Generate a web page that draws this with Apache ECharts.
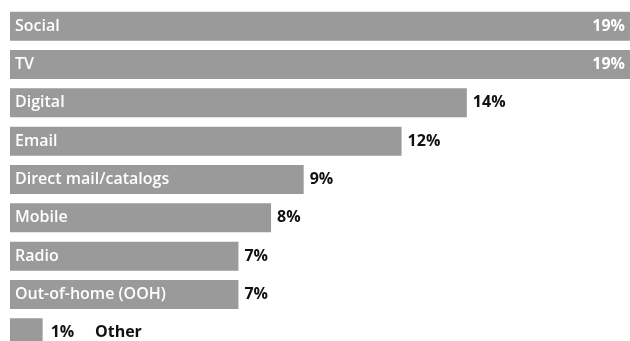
<!DOCTYPE html>
<html>
<head>
<meta charset="utf-8">
<script src="https://cdn.jsdelivr.net/npm/echarts@6/dist/echarts.min.js"></script>
<style>
  html, body { margin: 0; padding: 0; background: #fff; }
  #chart { width: 630px; height: 341px; }
</style>
</head>
<body>
<div id="chart"></div>
<script>
const channels = ["Social", "TV", "Digital", "Email", "Direct mail/catalogs", "Mobile", "Radio", "Out-of-home (OOH)", "Other"];
const shares = [19, 19, 14, 12, 9, 8, 7, 7, 1];

const FONT = "Open Sans";
const FONT_SIZE = 16;
const barGrey = "#9a9a9a";

const chart = echarts.init(document.getElementById("chart"));

// bars with the channel name written inside, left aligned
const barData = shares.map((v, i) => ({
  value: v,
  label: {
    show: channels[i] !== "Other",
    formatter: channels[i],
  },
}));

// transparent twin series carrying the percentage labels
const valueData = shares.map((v, i) => {
  const full = v === Math.max(...shares);
  if (channels[i] === "Other") {
    return {
      value: v,
      label: {
        position: "right",
        distance: 8,
        formatter: `{v|${v}%}     {v|${channels[i]}}`,
        rich: { v: { fontFamily: FONT, fontWeight: "bold", fontSize: FONT_SIZE, color: "#111" } },
      },
    };
  }
  return {
    value: v,
    label: full
      ? { position: "insideRight", distance: 5, color: "#fff" }
      : { position: "right", distance: 6, color: "#111" },
  };
});

const option = {
  animation: false,
  grid: { left: 10, width: 620, top: 7, height: 345, outerBoundsMode: "none" },
  xAxis: {
    type: "value",
    min: 0,
    max: 19,
    show: false,
  },
  yAxis: {
    type: "category",
    data: channels,
    inverse: true,
    show: false,
  },
  series: [
    {
      type: "bar",
      data: barData,
      barWidth: 29,
      itemStyle: { color: barGrey },
      label: {
        position: "insideLeft",
        distance: 5,
        color: "#fff",
        fontFamily: FONT,
        fontWeight: 600,
        fontSize: FONT_SIZE,
      },
      silent: true,
    },
    {
      type: "bar",
      data: valueData,
      barWidth: 29,
      barGap: "-100%",
      itemStyle: { color: "transparent" },
      label: {
        show: true,
        fontFamily: FONT,
        fontWeight: "bold",
        fontSize: FONT_SIZE,
        formatter: (p) => p.value + "%",
      },
      silent: true,
    },
  ],
};

chart.setOption(option);
</script>
</body>
</html>
